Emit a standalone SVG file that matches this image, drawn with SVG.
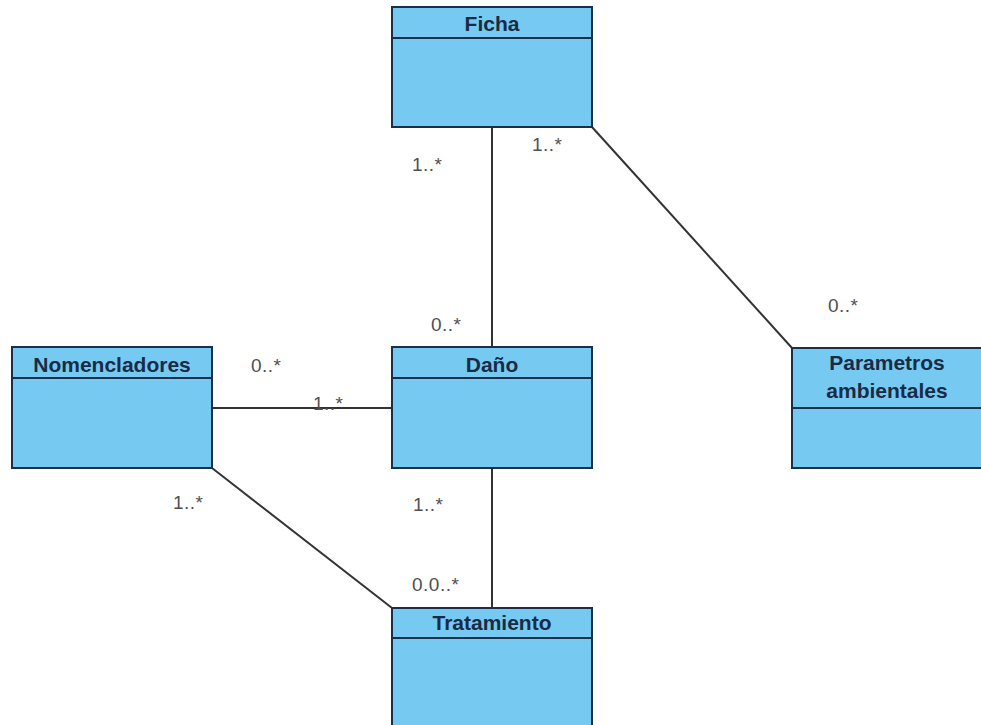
<svg xmlns="http://www.w3.org/2000/svg" width="981" height="725" viewBox="0 0 981 725">
  <style>
    .box { fill: #76caf2; stroke: #1c2f4a; stroke-width: 2; }
    .sep { stroke: #1c2f4a; stroke-width: 2; }
    .title { font-family: "Liberation Sans", Arial, sans-serif; font-size: 21px; font-weight: bold; fill: #1a2b45; text-anchor: middle; }
    .link { stroke: #333333; stroke-width: 2; fill: none; }
    .mult { font-family: "Liberation Sans", Arial, sans-serif; font-size: 19px; fill: #4f4f4f; letter-spacing: 0.5px; }
  </style>
  <rect width="981" height="725" fill="#ffffff"/>

  <!-- associations -->
  <g id="connectors">
    <line class="link" x1="492" y1="127" x2="492" y2="347"/>
    <line class="link" x1="592" y1="127" x2="792" y2="348"/>
    <line class="link" x1="212" y1="408" x2="392" y2="408"/>
    <line class="link" x1="212" y1="468" x2="392" y2="608"/>
    <line class="link" x1="492" y1="468" x2="492" y2="608"/>
  </g>

  <!-- multiplicities -->
  <g id="multiplicities">
    <text class="mult" x="412" y="171">1..*</text>
    <text class="mult" x="532" y="151">1..*</text>
    <text class="mult" x="431" y="331">0..*</text>
    <text class="mult" x="828" y="312">0..*</text>
    <text class="mult" x="251" y="372">0..*</text>
    <text class="mult" x="313" y="410">1..*</text>
    <text class="mult" x="173" y="509">1..*</text>
    <text class="mult" x="413" y="511">1..*</text>
    <text class="mult" x="412" y="591">0.0..*</text>
  </g>

  <g id="ficha">
    <rect class="box" x="392" y="7" width="200" height="120"/>
    <line class="sep" x1="392" y1="38" x2="592" y2="38"/>
    <text class="title" x="492" y="31">Ficha</text>
  </g>

  <g id="dano">
    <rect class="box" x="392" y="347" width="200" height="121"/>
    <line class="sep" x1="392" y1="378" x2="592" y2="378"/>
    <text class="title" x="492" y="372">Daño</text>
  </g>

  <g id="nomencladores">
    <rect class="box" x="12" y="347" width="200" height="121"/>
    <line class="sep" x1="12" y1="378" x2="212" y2="378"/>
    <text class="title" x="112" y="372">Nomencladores</text>
  </g>

  <g id="parametros-ambientales">
    <rect class="box" x="792" y="348" width="192" height="120"/>
    <line class="sep" x1="792" y1="408" x2="984" y2="408"/>
    <text class="title" x="887" y="370">Parametros</text>
    <text class="title" x="887" y="398">ambientales</text>
  </g>

  <g id="tratamiento">
    <rect class="box" x="392" y="608" width="200" height="130"/>
    <line class="sep" x1="392" y1="638" x2="592" y2="638"/>
    <text class="title" x="492" y="630">Tratamiento</text>
  </g>
</svg>
